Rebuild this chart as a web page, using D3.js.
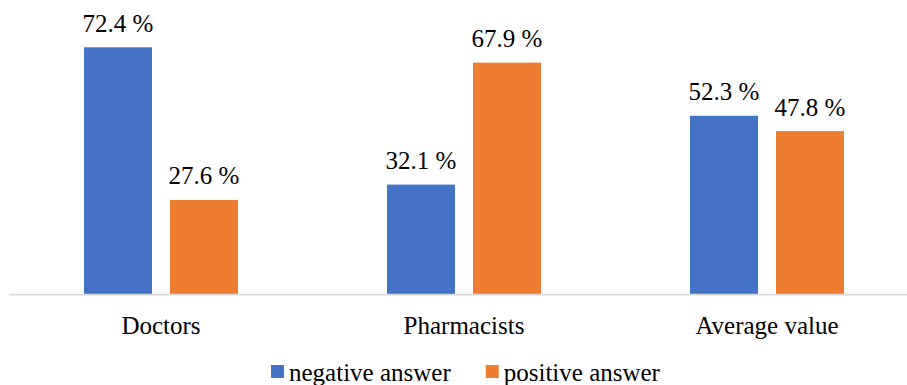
<!DOCTYPE html>
<html><head><meta charset="utf-8"><script src="https://cdn.jsdelivr.net/npm/d3@7"></script></head>
<body style="margin:0">
<svg id="chart" width="907" height="385" style="display:block" font-family="Liberation Serif"></svg>
<script>
const categories = ["Doctors", "Pharmacists", "Average value"];
const seriesNames = ["negative answer", "positive answer"];
const negativeValues = [72.4, 32.1, 52.3];
const positiveValues = [27.6, 67.9, 47.8];
const colors = ["#4472C4", "#ED7D31"];

const svg = d3.select("#chart");
const baseY = 294;
const fontSize = 25;

const x0 = d3.scaleBand().domain(categories).range([9.5, 918.5])
  .paddingInner(0.4917).paddingOuter(0.24585);
const x1 = d3.scaleBand().domain(seriesNames).range([0, x0.bandwidth()])
  .paddingInner(0.2093).paddingOuter(0);
const y = d3.scaleLinear().domain([0, 72.4]).range([baseY, 47.3]);

const data = categories.map((c, i) => ({
  cat: c,
  vals: [
    {s: seriesNames[0], v: negativeValues[i], c: colors[0]},
    {s: seriesNames[1], v: positiveValues[i], c: colors[1]}
  ]
}));

const g = svg.selectAll("g.cat").data(data).enter().append("g")
  .attr("class", "cat")
  .attr("transform", d => `translate(${x0(d.cat)},0)`);

g.selectAll("rect").data(d => d.vals).enter().append("rect")
  .attr("x", d => x1(d.s))
  .attr("y", d => y(d.v))
  .attr("width", x1.bandwidth())
  .attr("height", d => baseY - y(d.v))
  .attr("fill", d => d.c);

g.selectAll("text.val").data(d => d.vals).enter().append("text")
  .attr("class", "val")
  .attr("x", d => x1(d.s) + x1.bandwidth() / 2)
  .attr("y", d => y(d.v) - 15.5)
  .attr("text-anchor", "middle")
  .style("font-family", "'Liberation Serif'")
  .style("font-size", fontSize + "px")
  .text(d => d.v.toFixed(1) + " %");

// axis
const axis = d3.axisBottom(x0).tickSize(0).tickPadding(0);
const ax = svg.append("g").attr("transform", `translate(0,${baseY})`).call(axis);
ax.attr("font-family", "Liberation Serif").attr("font-size", fontSize);
ax.select(".domain").remove();
ax.selectAll(".tick text")
  .style("font-family", "'Liberation Serif'")
  .style("font-size", fontSize + "px")
  .attr("fill", "#000")
  .attr("dy", null)
  .attr("y", 39.5);
svg.append("line")
  .attr("x1", 9).attr("x2", 907)
  .attr("y1", baseY + 0.6).attr("y2", baseY + 0.6)
  .attr("stroke", "#D9D9D9").attr("stroke-width", 1.6);

// legend
const legend = svg.append("g");
let lx = 271;
seriesNames.forEach((s, i) => {
  legend.append("rect").attr("x", lx).attr("y", 365).attr("width", 13).attr("height", 13).attr("fill", colors[i]);
  const t = legend.append("text").attr("x", lx + 18).attr("y", 380.7)
    .style("font-family", "'Liberation Serif'").style("font-size", fontSize + "px").text(s);
  lx = lx + 18 + t.node().getComputedTextLength() + 35;
});
</script>
</body>
</html>
